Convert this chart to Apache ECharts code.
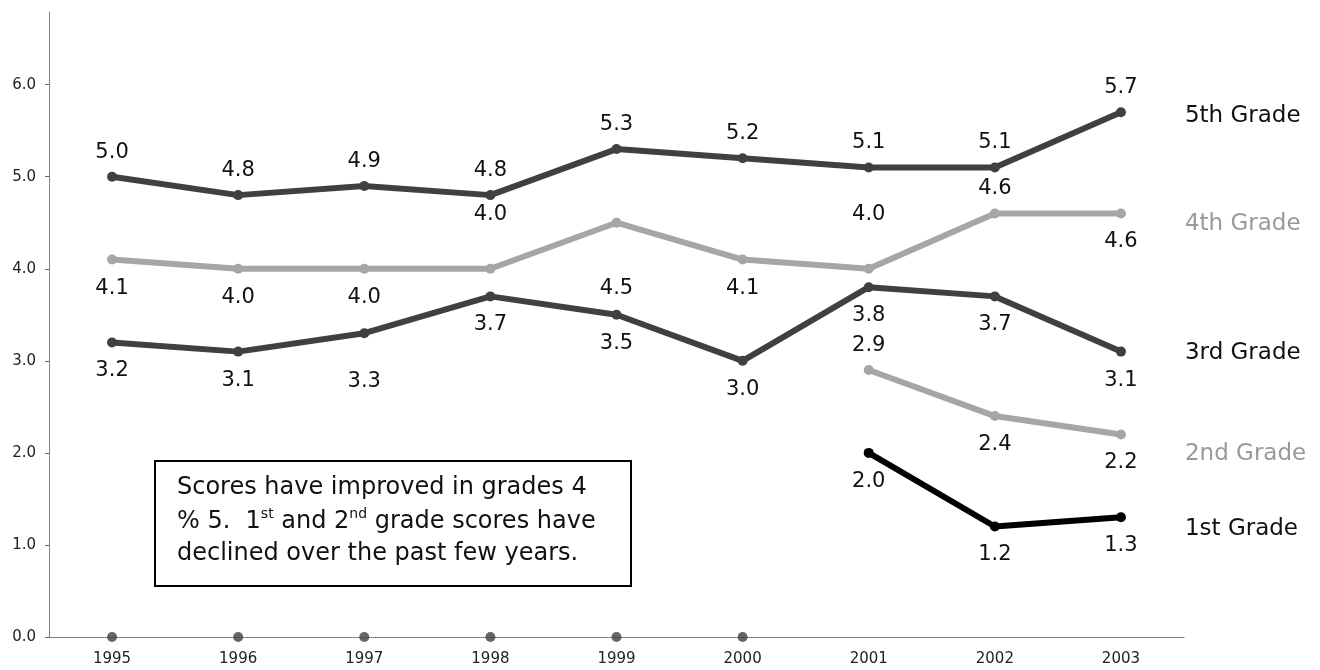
<!DOCTYPE html>
<html>
<head>
<meta charset="utf-8">
<script src="https://cdn.jsdelivr.net/npm/echarts@6/dist/echarts.min.js"></script>
<style>
  html, body { margin: 0; padding: 0; background: #ffffff; }
  #chart { width: 1320px; height: 670px; }
</style>
</head>
<body>
<div id="chart"></div>
<script>
// School years on the category axis
const years = ['1995', '1996', '1997', '1998', '1999', '2000', '2001', '2002', '2003'];

// Average scores by grade (null = not tested that year)
const grade5 = [5.0, 4.8, 4.9, 4.8, 5.3, 5.2, 5.1, 5.1, 5.7];
const grade4 = [4.1, 4.0, 4.0, 4.0, 4.5, 4.1, 4.0, 4.6, 4.6];
const grade3 = [3.2, 3.1, 3.3, 3.7, 3.5, 3.0, 3.8, 3.7, 3.1];
const grade2 = [null, null, null, null, null, null, 2.9, 2.4, 2.2];
const grade1 = [null, null, null, null, null, null, 2.0, 1.2, 1.3];

// Years with no 1st/2nd grade data sit on the baseline
const noData = [0, 0, 0, 0, 0, 0, null, null, null];

// Value-axis ticks
const yTicks = [0, 1, 2, 3, 4, 5, 6];

// Point indices whose value label sits above the line
const grade4Above = [3, 6, 7];
const grade2Above = [6];

// Hand-placed value labels, moved vertically (px) to keep them clear of other lines
const grade4LabelNudge = { 3: -30, 4: 37, 6: -30 };
const grade3LabelNudge = { 2: 20 };

// Note lines inside the text box
const noteLines = [
  'Scores have improved in grades 4',
  '% 5.  1{sup|st} and 2{sup|nd} grade scores have',
  'declined over the past few years.'
];

const FONT = 'DejaVu Sans';
const DARK = '#404040';
const LIGHT = '#a6a6a6';

function withLabels(values, defaultPos, abovePoints, nudge) {
  return values.map((v, i) => {
    if (v === null) return null;
    const pos = abovePoints.indexOf(i) >= 0 ? 'top' : defaultPos;
    const label = { position: pos, distance: pos === 'top' ? 9 : 13 };
    if (nudge && nudge[i] !== undefined) label.offset = [0, nudge[i]];
    return { value: v, label: label };
  });
}

function gradeSeries(name, values, color, nameColor, defaultPos, above, nudge, endOffsetY) {
  return {
    name: name,
    type: 'line',
    data: withLabels(values, defaultPos, above, nudge),
    symbol: 'circle',
    symbolSize: 10,
    connectNulls: false,
    lineStyle: { color: color, width: 6, cap: 'round', join: 'round' },
    itemStyle: { color: color },
    label: {
      show: true,
      fontFamily: FONT,
      fontSize: 21,
      color: '#111',
      formatter: p => Number(p.value).toFixed(1)
    },
    endLabel: {
      show: true,
      formatter: name,
      distance: 64,
      offset: [0, endOffsetY],
      fontFamily: FONT,
      fontSize: 23,
      color: nameColor
    },
    emphasis: { disabled: true },
    z: 3
  };
}

const noteTexts = noteLines.map((line, i) => ({
  type: 'text',
  x: 22,
  y: [27, 61, 93][i],
  style: {
    text: line,
    fontFamily: FONT,
    fontSize: 24,
    fill: '#111',
    verticalAlign: 'middle',
    rich: {
      sup: {
        fontFamily: FONT, fontSize: 14, fill: '#111',
        lineHeight: 14, padding: [0, 0, 16, 0], verticalAlign: 'middle'
      }
    }
  }
}));

const chart = echarts.init(document.getElementById('chart'), null, { renderer: 'canvas' });

chart.setOption({
  animation: false,
  backgroundColor: '#ffffff',
  grid: { left: 49, right: 136, top: 11, bottom: 33, containLabel: false, outerBoundsMode: 'none' },
  xAxis: {
    type: 'category',
    data: years,
    boundaryGap: true,
    axisLine: { show: true, lineStyle: { color: '#666', width: 1, type: 'dotted' } },
    axisTick: { show: false },
    axisLabel: { fontFamily: FONT, fontSize: 15, color: '#222', margin: 15 },
    splitLine: { show: false }
  },
  yAxis: {
    type: 'value',
    min: 0,
    max: 6.8,
    axisLine: { show: true, lineStyle: { color: '#666', width: 1, type: 'dotted' } },
    axisTick: { show: true, length: 4, customValues: yTicks, lineStyle: { color: '#666' } },
    axisLabel: {
      customValues: yTicks,
      fontFamily: FONT, fontSize: 15, color: '#222', margin: 13,
      formatter: v => Number(v).toFixed(1)
    },
    splitLine: { show: false }
  },
  series: [
    gradeSeries('5th Grade', grade5, DARK, '#111', 'top', [], null, 4),
    gradeSeries('4th Grade', grade4, LIGHT, '#999', 'bottom', grade4Above, grade4LabelNudge, 11),
    gradeSeries('3rd Grade', grade3, DARK, '#111', 'bottom', [], grade3LabelNudge, 1),
    gradeSeries('2nd Grade', grade2, LIGHT, '#999', 'bottom', grade2Above, null, 20),
    gradeSeries('1st Grade', grade1, '#000000', '#111', 'bottom', [], null, 12),
    {
      name: 'baseline',
      type: 'scatter',
      data: noData,
      symbol: 'circle',
      symbolSize: 10,
      itemStyle: { color: DARK },
      emphasis: { disabled: true },
      z: 4
    }
  ],
  graphic: [
    {
      type: 'group',
      left: 154,
      top: 460,
      children: [
        {
          type: 'rect',
          shape: { x: 0, y: 0, width: 476, height: 125 },
          style: { fill: '#ffffff', stroke: '#000000', lineWidth: 2 }
        }
      ].concat(noteTexts)
    }
  ]
});
</script>
</body>
</html>
